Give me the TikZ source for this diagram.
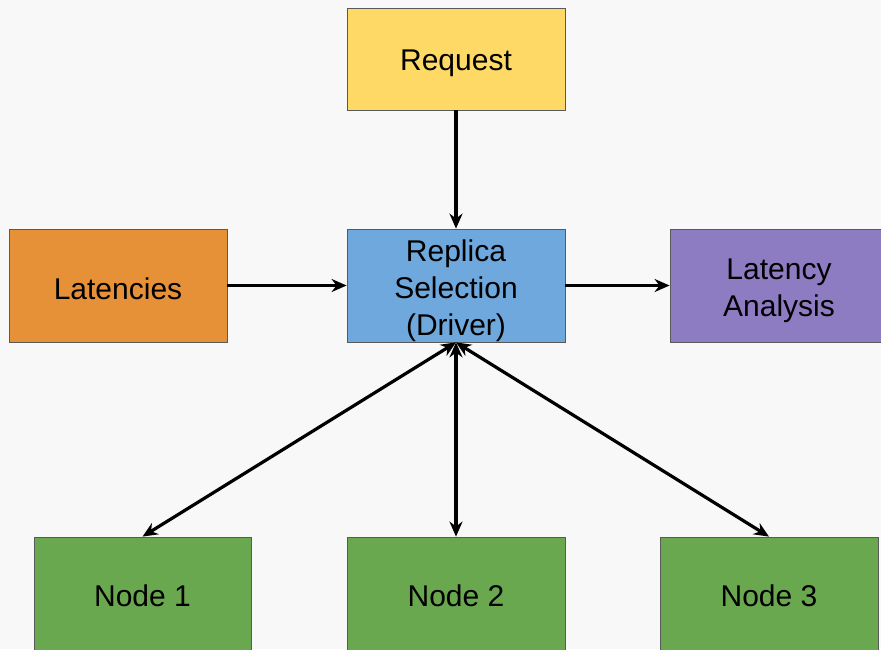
\documentclass[tikz,border=0pt]{standalone}
\usepackage{fontspec}
\setmainfont{Liberation Sans}
\usetikzlibrary{arrows.meta}
\definecolor{bg}{HTML}{F8F8F8}
\definecolor{creq}{HTML}{FFD966}
\definecolor{clat}{HTML}{E69138}
\definecolor{crep}{HTML}{6FA8DC}
\definecolor{cana}{HTML}{8E7CC3}
\definecolor{cnode}{HTML}{6AA84F}
\definecolor{cborder}{HTML}{595959}
\tikzset{
  box/.style={draw=cborder, line width=0.8pt, rectangle, inner sep=0pt},
  txt/.style={align=center, inner sep=0pt, font=\fontsize{30}{37}\selectfont},
  conn/.style={line width=3.2pt, -{Stealth[length=15pt,width=13pt]}},
  bconn/.style={line width=3.2pt, {Stealth[length=15pt,width=13pt]}-{Stealth[length=15pt,width=13pt]}}
}
\begin{document}
\begin{tikzpicture}[x=1pt,y=-1pt]
\fill[bg] (0,0) rectangle (881,649);
\useasboundingbox (0,0) rectangle (881,649);
\clip (0,0) rectangle (881,649);
\node[box, fill=creq, minimum width=218pt, minimum height=102pt] (req) at (456,59) {};
\node[box, fill=clat, minimum width=218pt, minimum height=113pt] (lat) at (118,285.5) {};
\node[box, fill=crep, minimum width=218pt, minimum height=113pt] (rep) at (456,285.5) {};
\node[box, fill=cana, minimum width=222pt, minimum height=113pt] (ana) at (781,285.5) {};
\node[box, fill=cnode, minimum width=217pt, minimum height=126pt] (n1) at (142.5,600) {};
\node[box, fill=cnode, minimum width=218pt, minimum height=126pt] (n2) at (456,600) {};
\node[box, fill=cnode, minimum width=218pt, minimum height=126pt] (n3) at (769,600) {};
\node[txt] (treq) at (456,63.5) {Request};
\node[txt] (tlat) at (118,289) {Latencies};
\node[txt] (trep) at (456,291) {Replica\\Selection\\(Driver)};
\node[txt] (tana) at (779,291) {Latency\\Analysis};
\node[txt] (t1) at (142.5,596) {Node 1};
\node[txt] (t2) at (456,596) {Node 2};
\node[txt] (t3) at (769,596) {Node 3};
\draw[conn] (req.south) -- (rep.north);
\draw[conn] (lat.east) -- (rep.west);
\draw[conn] (rep.east) -- (rep.east -| ana.west);
\draw[bconn] (rep.south) -- (n1.north);
\draw[bconn] (rep.south) -- (n2.north);
\draw[bconn] (rep.south) -- (n3.north);
\end{tikzpicture}
\end{document}
